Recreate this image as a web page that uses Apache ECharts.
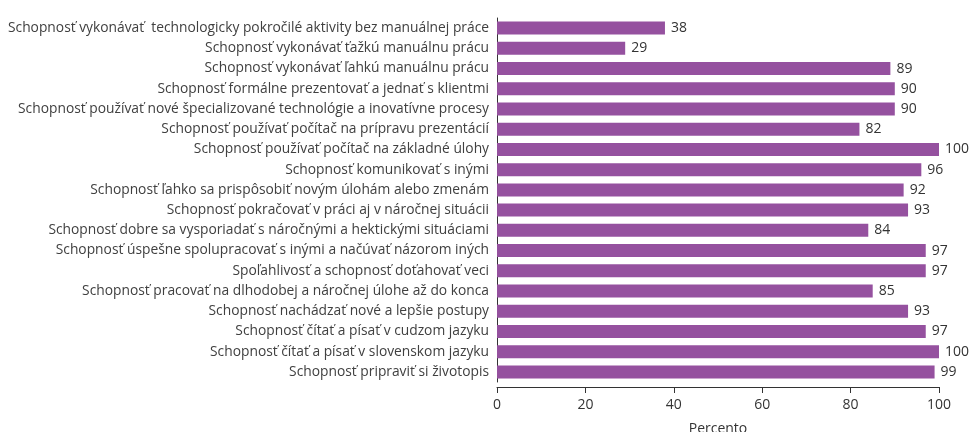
<!DOCTYPE html>
<html>
<head>
<meta charset="utf-8">
<script src="https://cdn.jsdelivr.net/npm/echarts@6/dist/echarts.min.js"></script>
<style>
html,body{margin:0;padding:0;background:#fff;}
#chart{width:973px;height:432px;}
</style>
</head>
<body>
<div id="chart"></div>
<script>
const categories = [
  "Schopnosť vykonávať  technologicky pokročilé aktivity bez manuálnej práce",
  "Schopnosť vykonávať ťažkú manuálnu prácu",
  "Schopnosť vykonávať ľahkú manuálnu prácu",
  "Schopnosť formálne prezentovať a jednať s klientmi",
  "Schopnosť používať nové špecializované technológie a inovatívne procesy",
  "Schopnosť používať počítač na prípravu prezentácií",
  "Schopnosť používať počítač na základné úlohy",
  "Schopnosť komunikovať s inými",
  "Schopnosť ľahko sa prispôsobiť novým úlohám alebo zmenám",
  "Schopnosť pokračovať v práci aj v náročnej situácii",
  "Schopnosť dobre sa vysporiadať s náročnými a hektickými situáciami",
  "Schopnosť úspešne spolupracovať s inými a načúvať názorom iných",
  "Spoľahlivosť a schopnosť doťahovať veci",
  "Schopnosť pracovať na dlhodobej a náročnej úlohe až do konca",
  "Schopnosť nachádzať nové a lepšie postupy",
  "Schopnosť čítať a písať v cudzom jazyku",
  "Schopnosť čítať a písať v slovenskom jazyku",
  "Schopnosť pripraviť si životopis"
];
const values = [38, 29, 89, 90, 90, 82, 100, 96, 92, 93, 84, 97, 97, 85, 93, 97, 100, 99];
const xTicks = [0, 20, 40, 60, 80, 100];
const axisName = "Percento";

const chart = echarts.init(document.getElementById('chart'), null, {renderer: 'canvas'});
const font = '"Open Sans", "DejaVu Sans", sans-serif';
chart.setOption({
  animation: false,
  textStyle: {fontFamily: font},
  grid: {left: 497, right: 34, top: 18, bottom: 50, containLabel: false, outerBoundsMode: 'none'},
  xAxis: {
    type: 'value',
    min: xTicks[0],
    max: xTicks[xTicks.length - 1],
    interval: xTicks[1] - xTicks[0],
    offset: 5,
    name: axisName,
    nameLocation: 'middle',
    nameGap: 35,
    nameTextStyle: {fontSize: 14, color: '#333', fontFamily: font},
    axisLine: {show: true, lineStyle: {color: '#333', width: 1}},
    axisTick: {show: true, length: 6, lineStyle: {color: '#333'}},
    axisLabel: {fontSize: 14, color: '#333', margin: 11, fontFamily: font},
    splitLine: {show: false}
  },
  yAxis: {
    type: 'category',
    data: categories,
    inverse: true,
    axisLine: {show: true, lineStyle: {color: '#333', width: 1}},
    axisTick: {show: false},
    axisLabel: {fontSize: 13.8, color: '#404040', margin: 8, fontFamily: font}
  },
  series: [{
    type: 'bar',
    data: values,
    barWidth: 13,
    itemStyle: {color: '#95519f'},
    label: {show: true, position: 'right', distance: 6, fontSize: 14, color: '#333', fontFamily: font}
  }]
});
</script>
</body>
</html>
